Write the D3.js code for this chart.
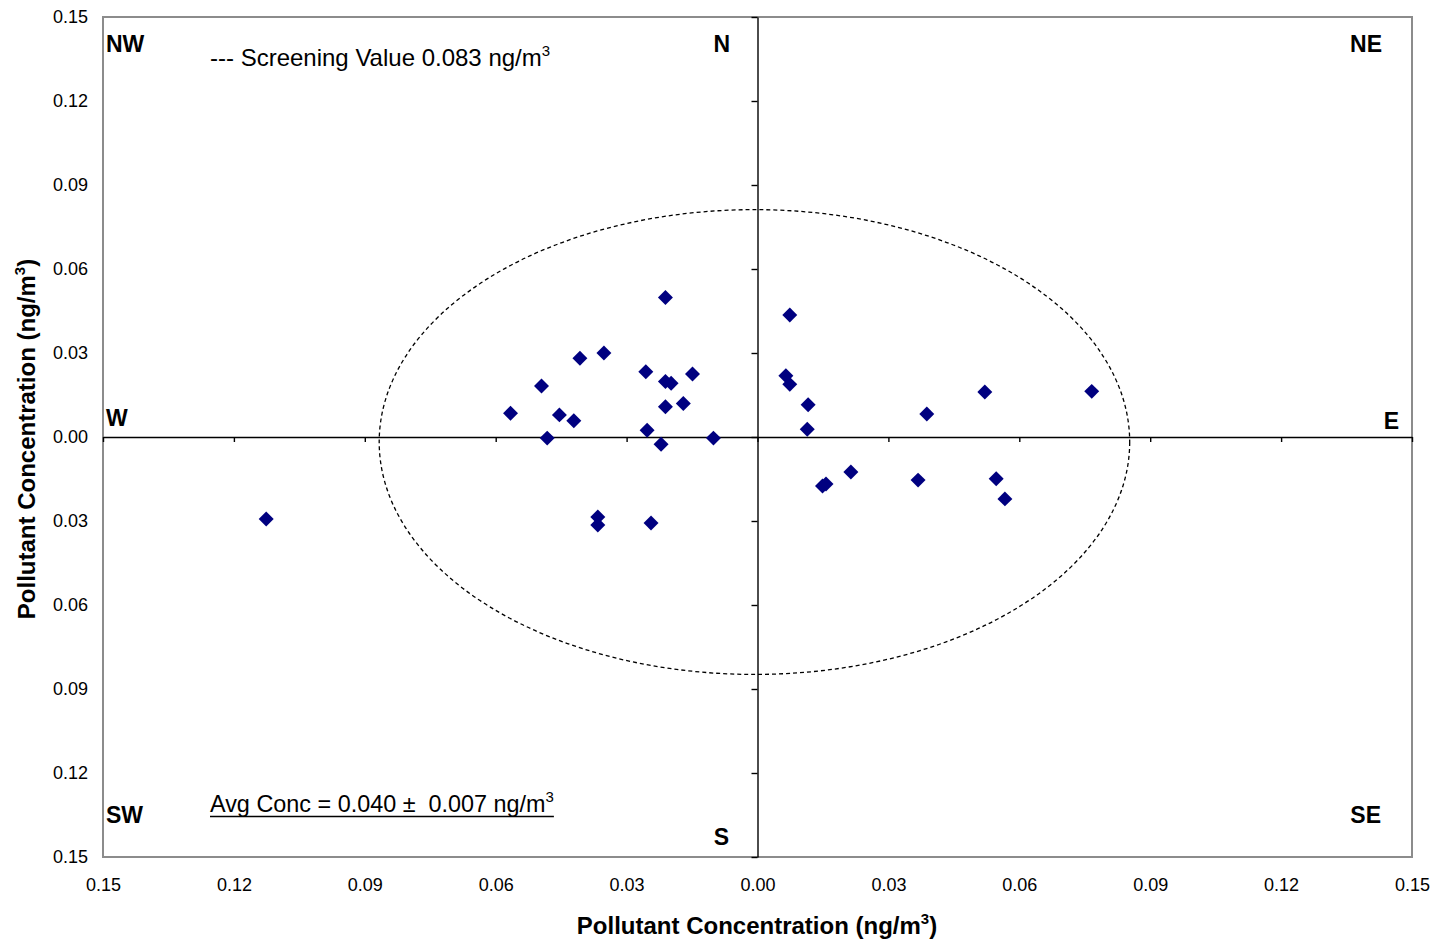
<!DOCTYPE html>
<html><head><meta charset="utf-8">
<script src="https://cdn.jsdelivr.net/npm/d3@7"></script>
<style>body{margin:0;background:#fff}svg{display:block}text{font-family:"Liberation Sans",Arial,sans-serif;white-space:pre}</style>
</head><body>
<svg id="c" width="1436" height="943"></svg>
<script>
const pointsX = [-0.1126,-0.0566,-0.0495,-0.0482,-0.0454,-0.0421,-0.0407,-0.0352,-0.0366,-0.0366,-0.0256,-0.0253,-0.0244,-0.0211,-0.0211,-0.0198,-0.0211,-0.0221,-0.0170,-0.0149,-0.0101,
  0.0074,0.0065,0.0074,0.0116,0.0114,0.0388,0.0521,0.0766,0.0149,0.0157,0.0214,0.0368,0.0547,0.0567];
const pointsY = [-0.0293,0.0085,0.0182,-0.0004,0.0079,0.0058,0.0281,0.0300,-0.0286,-0.0314,0.0233,0.0024,-0.0307,0.0498,0.0198,0.0192,0.0108,-0.0026,0.0120,0.0225,-0.0004,
  0.0436,0.0219,0.0188,0.0115,0.0028,0.0082,0.0161,0.0163,-0.0175,-0.0168,-0.0125,-0.0154,-0.0149,-0.0221];
const tickValues = [-0.15,-0.12,-0.09,-0.06,-0.03,0,0.03,0.06,0.09,0.12,0.15];
const screeningRx = 0.086, screeningRy = 0.083, screeningCx = -0.0007, screeningCy = -0.0018;
const directions = ["NW","N","NE","W","E","SW","S","SE"];
const screeningLabel = "--- Screening Value 0.083 ng/m";
const avgLabel = "Avg Conc = 0.040 \u00b1  0.007 ng/m";
const axisTitle = "Pollutant Concentration (ng/m";

const svg = d3.select("#c");
const L=103,R=1412,T=17,B=857;
const x = d3.scaleLinear().domain([-0.15,0.15]).range([L,R]);
const y = d3.scaleLinear().domain([-0.15,0.15]).range([B,T]);
const fmt = v => Math.abs(v).toFixed(2);

// border
svg.append("rect").attr("x",L).attr("y",T).attr("width",R-L).attr("height",B-T)
  .attr("fill","none").attr("stroke","#8c8c8c").attr("stroke-width",2);

// outer tick labels
const yAx = d3.axisLeft(y).tickValues(tickValues).tickFormat(fmt).tickSize(0).tickPadding(15);
svg.append("g").attr("transform",`translate(${L},0)`).call(yAx)
  .call(g=>g.select(".domain").remove())
  .selectAll("text").attr("font-size",18).attr("fill","#000").style("font-family","Liberation Sans, Arial");
const xAx = d3.axisBottom(x).tickValues(tickValues).tickFormat(fmt).tickSize(0).tickPadding(21);
svg.append("g").attr("transform",`translate(0,${B})`).call(xAx)
  .call(g=>g.select(".domain").remove())
  .selectAll("text").attr("font-size",18).attr("fill","#000").style("font-family","Liberation Sans, Arial");

// center axes
const hx = d3.axisBottom(x).tickValues(tickValues).tickFormat("").tickSizeInner(5).tickSizeOuter(0);
svg.append("g").attr("transform",`translate(0,${y(0)})`).call(hx)
  .call(g=>g.selectAll("path,line").attr("stroke","#000").attr("stroke-width",1.4));
const vx = d3.axisLeft(y).tickValues(tickValues).tickFormat("").tickSizeInner(6).tickSizeOuter(0);
svg.append("g").attr("transform",`translate(${x(0)},0)`).call(vx)
  .call(g=>g.selectAll("path,line").attr("stroke","#000").attr("stroke-width",1.4));

// ellipse
svg.append("ellipse").attr("cx",x(screeningCx)).attr("cy",y(screeningCy))
  .attr("rx",x(screeningRx)-x(0)).attr("ry",y(0)-y(screeningRy))
  .attr("fill","none").attr("stroke","#000").attr("stroke-width",1.3).attr("stroke-dasharray","4,3");

// points
svg.append("g").selectAll("path").data(pointsX.map((v,i)=>[v,pointsY[i]])).join("path")
  .attr("transform",d=>`translate(${x(d[0])},${y(d[1])}) rotate(45)`)
  .attr("d",d3.symbol().type(d3.symbolSquare).size(112))
  .attr("fill","#000080");

// direction labels
const dirPos = {NW:[106,52,"start"],N:[730,52,"end"],NE:[1382,52,"end"],W:[106,426,"start"],E:[1399,429,"end"],SW:[106,823,"start"],S:[729,845,"end"],SE:[1381,823,"end"]};
svg.append("g").selectAll("text").data(directions).join("text")
  .attr("x",d=>dirPos[d][0]).attr("y",d=>dirPos[d][1]).attr("text-anchor",d=>dirPos[d][2])
  .attr("font-size",23).attr("font-weight","bold").text(d=>d);

// screening label
const s = svg.append("text").attr("x",210).attr("y",66).attr("font-size",24);
s.append("tspan").text(screeningLabel);
s.append("tspan").attr("dy",-10).attr("font-size",15).text("3");

// avg label
const a = svg.append("text").attr("x",210).attr("y",812).attr("font-size",23.4);
a.append("tspan").text(avgLabel);
a.append("tspan").attr("dy",-10).attr("font-size",15).text("3");
const abox = a.node().getBBox();
svg.append("line").attr("x1",210).attr("x2",abox.x+abox.width).attr("y1",816.5).attr("y2",816.5).attr("stroke","#000").attr("stroke-width",1.5);

// axis titles
function title(g){
  g.append("tspan").text(axisTitle);
  g.append("tspan").attr("dy",-10).attr("font-size",15).text("3");
  g.append("tspan").attr("dy",10).text(")");
}
const xt = svg.append("text").attr("x",757).attr("y",934).attr("text-anchor","middle").attr("font-size",24).attr("font-weight","bold");
title(xt);
const yt = svg.append("text").attr("transform","translate(35,439) rotate(-90)").attr("text-anchor","middle").attr("font-size",24).attr("font-weight","bold");
title(yt);
</script>
</body></html>
